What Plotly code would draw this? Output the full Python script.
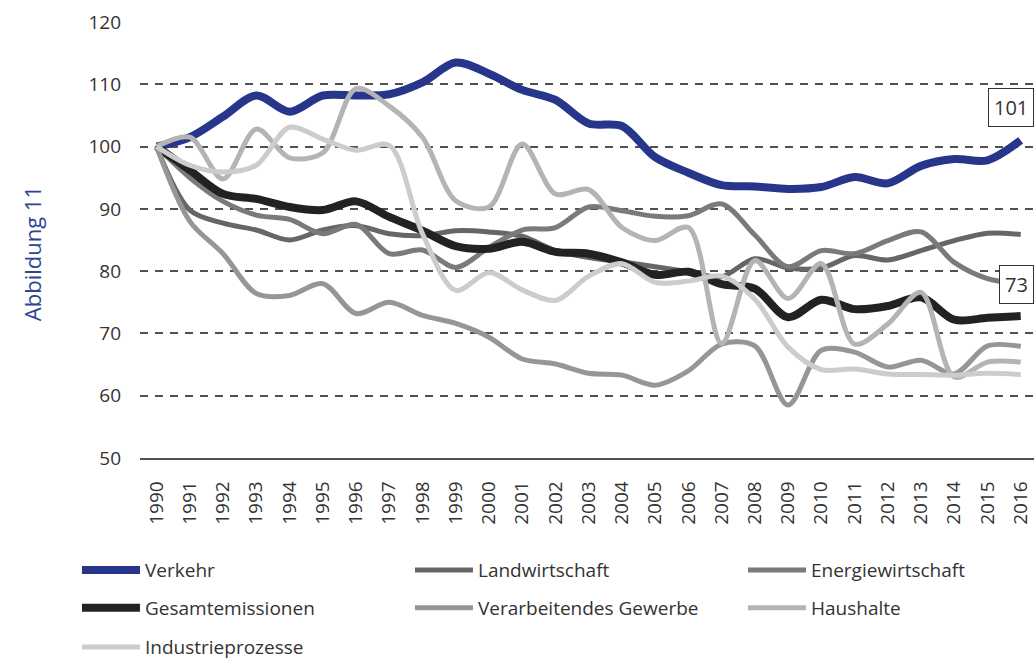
import plotly.graph_objects as go

# Emissionen nach Sektoren, Index 1990 = 100
years = ["1990", "1991", "1992", "1993", "1994", "1995", "1996", "1997", "1998",
         "1999", "2000", "2001", "2002", "2003", "2004", "2005", "2006", "2007",
         "2008", "2009", "2010", "2011", "2012", "2013", "2014", "2015", "2016"]

verkehr = [100, 101.5, 104.8, 108.2, 105.6, 108.2, 108.2, 108.4, 110.3, 113.5, 111.7, 109.1, 107.5, 103.7,
           103.3, 98.3, 95.8, 93.8, 93.6, 93.2, 93.5, 95.1, 94.1, 96.9, 98, 97.8, 101]
landwirtschaft = [100, 89.8, 87.7, 86.6, 85, 86.6, 87.3, 86, 85.7, 86.5, 86.3, 85.6, 83.3, 82.2,
                  81.5, 80.7, 79.9, 79.1, 82, 80.5, 80.5, 82.5, 81.8, 83.3, 84.9, 86.1, 85.9]
energiewirtschaft = [100, 95, 91.2, 89, 88.3, 86, 87.5, 82.8, 83.4, 80.6, 83.8, 86.6, 87, 90.3,
                     89.7, 88.8, 88.9, 90.8, 85.8, 80.7, 83.3, 82.8, 84.9, 86.3, 81.4, 78.8, 78]
gesamtemissionen = [100, 96.2, 92.4, 91.6, 90.3, 89.8, 91.2, 88.7, 86.5, 84, 83.6, 84.7, 83.1, 82.8,
                    81.4, 79.4, 79.9, 77.9, 77.2, 72.6, 75.4, 73.9, 74.4, 75.8, 72.2, 72.5, 72.8]
verarbeitendes_gewerbe = [100, 88, 82.8, 76.4, 76.1, 78, 73.2, 75, 72.9, 71.6, 69.4, 65.9, 65.1, 63.6,
                          63.3, 61.7, 64, 68.3, 68, 58.5, 67.3, 67, 64.6, 65.7, 63.5, 68, 67.9]
haushalte = [100, 101.5, 94.8, 102.8, 98.2, 99, 109.3, 106.5, 101.5, 91.3, 90.3, 100.4, 92.4, 93.1,
             87, 84.9, 87, 68.4, 81.7, 75.6, 81.2, 68.3, 71.5, 76.6, 63, 65.4, 65.4]
industrieprozesse = [100, 97, 95.9, 97, 103.1, 101.2, 99.4, 100.2, 86, 76.9, 79.8, 77, 75.3, 79.2,
                     81.2, 78.2, 78.4, 79.2, 75.5, 67.8, 64.2, 64.3, 63.5, 63.4, 63.3, 63.6, 63.4]

FONT = "Open Sans"
TEXT = "#333333"

# (name, values, colour, line width, legend row, legend entry width)
series = [
    ("Verkehr", verkehr, "#27358A", 8, "legend", 260),
    ("Landwirtschaft", landwirtschaft, "#666666", 5, "legend", 260),
    ("Energiewirtschaft", energiewirtschaft, "#7A7A7A", 5, "legend", 190),
    ("Gesamtemissionen", gesamtemissionen, "#222222", 8, "legend2", 260),
    ("Verarbeitendes Gewerbe", verarbeitendes_gewerbe, "#969696", 5, "legend2", 260),
    ("Haushalte", haushalte, "#B4B4B4", 5, "legend2", 190),
    ("Industrieprozesse", industrieprozesse, "#CCCCCC", 5, "legend3", 260),
]

fig = go.Figure()
for name, vals, color, width, leg, lw in series:
    fig.add_trace(go.Scatter(
        x=years, y=vals, name=name, mode="lines", legend=leg, legendwidth=lw,
        line=dict(color=color, width=width, shape="spline", smoothing=0.9),
    ))

# end-value labels, pulled in just enough to stay inside the page
last = len(years) - 1
label_style = dict(
    xref="x", yref="y", showarrow=False, font=dict(family=FONT, size=20, color=TEXT),
    bgcolor="white", bordercolor="#333333", borderwidth=1, borderpad=5,
)
fig.add_annotation(x=last, y=106.3, xshift=-10, text=str(round(verkehr[-1])), **label_style)
fig.add_annotation(x=last, y=77.9, xshift=-4, text=str(round(gesamtemissionen[-1])), **label_style)

fig.add_annotation(
    xref="paper", yref="paper", x=-0.14, y=0.31, text="Abbildung 11", textangle=-90,
    showarrow=False, font=dict(family=FONT, size=22, color="#2E4596"),
)

leg_common = dict(
    orientation="h", xref="paper", yref="paper", x=-0.0705, xanchor="left", yanchor="middle",
    itemwidth=58, entrywidth=260, entrywidthmode="pixels",
    font=dict(family=FONT, size=19, color=TEXT), bgcolor="rgba(0,0,0,0)",
)

fig.update_layout(
    width=1034, height=660,
    margin=dict(l=140, r=0, t=22, b=202, autoexpand=False),
    paper_bgcolor="white", plot_bgcolor="white",
    font=dict(family=FONT, size=19, color=TEXT),
    xaxis=dict(
        type="category", range=[-0.5, 26.4], tickangle=-90, showgrid=False,
        showline=True, linecolor="#505050", linewidth=1.5, ticks="",
        ticklabelstandoff=14, tickfont=dict(size=19, color=TEXT),
    ),
    yaxis=dict(
        range=[50, 120], dtick=10, showgrid=True, gridcolor="#505050", gridwidth=1.5,
        griddash="8px,7px", zeroline=False, ticks="", ticklabelstandoff=18,
        tickfont=dict(size=19, color=TEXT),
    ),
    legend=dict(y=-0.257, **leg_common),
    legend2=dict(y=-0.344, **leg_common),
    legend3=dict(y=-0.434, **leg_common),
)

fig.write_html("out.html", config={"displayModeBar": False},
               post_script="document.body.style.margin='0';")
